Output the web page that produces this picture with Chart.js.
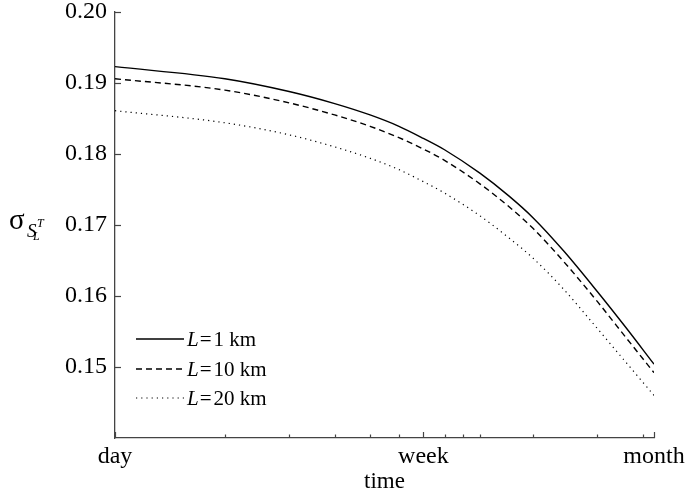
<!DOCTYPE html>
<html>
<head>
<meta charset="utf-8">
<script src="https://cdn.jsdelivr.net/npm/chart.js@4.4.1/dist/chart.umd.min.js"></script>
<style>
  html, body { margin: 0; padding: 0; background: #fff; }
  #wrap { width: 688px; height: 498px; }
</style>
</head>
<body>
<div id="wrap"><canvas id="sigmaChart" width="688" height="498"></canvas></div>
<script>
// temps en jours (axe log), d'un jour à un mois
const days = [1, 2, 3, 4, 5, 6, 7, 8, 10, 12, 14, 17, 21, 25, 30];
const sigmaL1 = [0.1923, 0.1906, 0.1888, 0.1871, 0.1855, 0.1839, 0.1822, 0.1806, 0.1773, 0.1741, 0.1710, 0.1663, 0.1606, 0.1557, 0.1504];
const sigmaL10 = [0.1906, 0.1890, 0.1872, 0.1855, 0.1839, 0.1823, 0.1807, 0.1791, 0.1758, 0.1726, 0.1695, 0.1648, 0.1592, 0.1543, 0.1492];
const sigmaL20 = [0.1861, 0.1844, 0.1827, 0.1810, 0.1794, 0.1778, 0.1761, 0.1745, 0.1713, 0.1682, 0.1653, 0.1609, 0.1554, 0.1508, 0.1460];
const seriesLabels = ["1 km", "10 km", "20 km"];

// graduations : majeures jour / semaine / mois, mineures entre les deux
const xTickValues = [1, 2, 3, 4, 5, 6, 7, 8, 9, 10, 14, 21, 28, 30];
const xTickLabels = { 1: "day", 7: "week", 30: "month" };
const yTickValues = [0.15, 0.16, 0.17, 0.18, 0.19, 0.20];

const serif = "'Liberation Serif', 'DejaVu Serif', serif";
const axisColor = "#444";

const toPoints = (values) => days.map((d, i) => ({ x: d, y: values[i] }));

// Petites graduations vers l'intérieur, légende et titre de l'axe y
const axisMarks = {
  id: "axisMarks",
  afterDraw(chart) {
    const { ctx, chartArea, scales } = chart;
    ctx.save();
    ctx.strokeStyle = axisColor;
    ctx.lineWidth = 1.2;

    xTickValues.forEach((v) => {
      const px = Math.round(scales.x.getPixelForValue(v)) + 0.5;
      const len = xTickLabels[v] ? 6 : 3.5;
      ctx.beginPath();
      ctx.moveTo(px, chartArea.bottom);
      ctx.lineTo(px, chartArea.bottom - len);
      ctx.stroke();
    });

    yTickValues.forEach((v) => {
      const py = Math.round(scales.y.getPixelForValue(v)) + 0.5;
      ctx.beginPath();
      ctx.moveTo(chartArea.left, py);
      ctx.lineTo(chartArea.left + 6, py);
      ctx.stroke();
    });

    // légende dans le coin bas gauche
    const rowY = [339, 369, 398];
    chart.data.datasets.forEach((ds, i) => {
      const y = rowY[i];
      ctx.strokeStyle = ds.borderColor;
      ctx.lineWidth = ds.borderWidth;
      ctx.setLineDash(ds.borderDash || []);
      ctx.beginPath();
      ctx.moveTo(136, y);
      ctx.lineTo(184, y);
      ctx.stroke();
      ctx.setLineDash([]);

      ctx.fillStyle = "#000";
      ctx.textBaseline = "middle";
      let x = 187;
      ctx.font = "italic 21px " + serif;
      ctx.fillText("L", x, y + 1);
      x += ctx.measureText("L").width + 1;
      ctx.font = "21px " + serif;
      ctx.fillText("=", x, y + 1);
      x += ctx.measureText("=").width + 2;
      ctx.fillText(seriesLabels[i], x, y + 1);
    });

    // titre de l'axe y : sigma indice S_L^T
    ctx.fillStyle = "#000";
    ctx.textBaseline = "alphabetic";
    ctx.font = "29px " + serif;
    ctx.fillText("σ", 9, 229);
    ctx.font = "italic 19px " + serif;
    ctx.fillText("S", 27, 237);
    ctx.font = "italic 12px " + serif;
    ctx.fillText("T", 37, 227);
    ctx.fillText("L", 33, 240);

    ctx.restore();
  }
};

new Chart(document.getElementById("sigmaChart"), {
  type: "line",
  data: {
    datasets: [
      {
        label: seriesLabels[0],
        data: toPoints(sigmaL1),
        borderColor: "#000",
        borderWidth: 1.4,
        pointRadius: 0,
        cubicInterpolationMode: "monotone",
      },
      {
        label: seriesLabels[1],
        data: toPoints(sigmaL10),
        borderColor: "#000",
        borderWidth: 1.4,
        borderDash: [6, 4],
        pointRadius: 0,
        cubicInterpolationMode: "monotone",
      },
      {
        label: seriesLabels[2],
        data: toPoints(sigmaL20),
        borderColor: "#000",
        borderWidth: 1.2,
        borderDash: [1.2, 4],
        pointRadius: 0,
        cubicInterpolationMode: "monotone",
      },
    ],
  },
  options: {
    responsive: false,
    animation: false,
    devicePixelRatio: 1,
    layout: { padding: { top: 12, right: 34, left: 0, bottom: 0 } },
    plugins: {
      legend: { display: false },
      tooltip: { enabled: false },
    },
    scales: {
      x: {
        type: "logarithmic",
        min: 1,
        max: 30,
        afterBuildTicks: (scale) => {
          scale.ticks = xTickValues.map((v) => ({ value: v }));
        },
        afterFit: (scale) => {
          scale.height = 60;
          scale.paddingLeft = 0;
          scale.paddingRight = 0;
        },
        grid: { display: false, drawTicks: false },
        border: { display: true, color: axisColor, width: 1.3 },
        ticks: {
          autoSkip: false,
          maxRotation: 0,
          padding: 4,
          color: "#000",
          font: { family: serif, size: 24 },
          callback: (v) => xTickLabels[v] || "",
        },
        title: {
          display: true,
          text: "time",
          color: "#000",
          font: { family: serif, size: 23 },
          padding: { top: 0, bottom: 2 },
        },
      },
      y: {
        type: "linear",
        min: 0.14,
        max: 0.2,
        afterBuildTicks: (scale) => {
          scale.ticks = yTickValues.map((v) => ({ value: v }));
        },
        afterFit: (scale) => {
          scale.width = 115;
          scale.paddingTop = 0;
          scale.paddingBottom = 0;
        },
        grid: { display: false, drawTicks: false },
        border: { display: true, color: axisColor, width: 1.3 },
        ticks: {
          padding: 8,
          color: "#000",
          font: { family: serif, size: 24 },
          callback: (v) => v.toFixed(2),
        },
      },
    },
  },
  plugins: [axisMarks],
});
</script>
</body>
</html>
